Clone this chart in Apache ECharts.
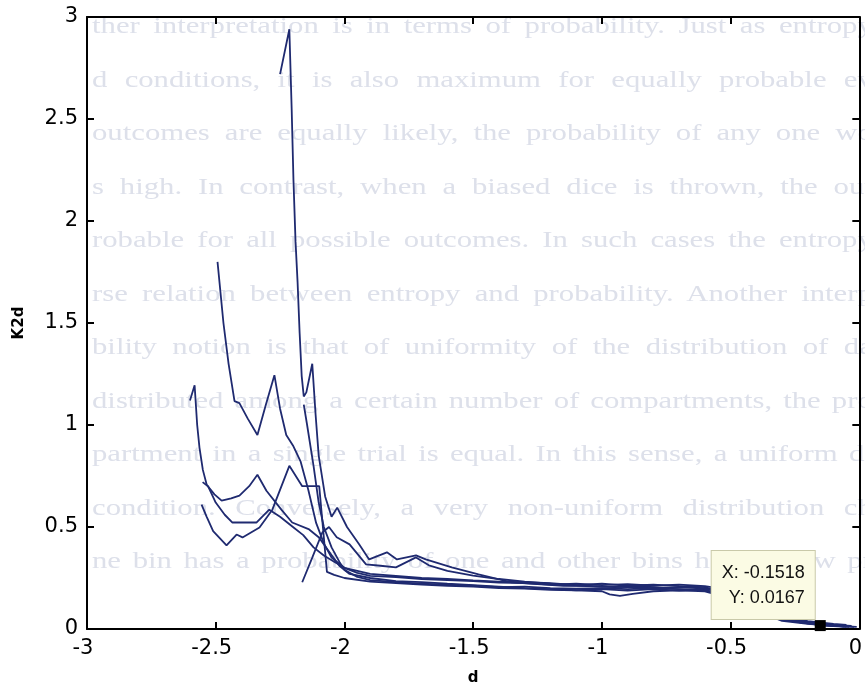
<!DOCTYPE html>
<html>
<head>
<meta charset="utf-8">
<script src="https://cdn.jsdelivr.net/npm/echarts@6/dist/echarts.min.js"></script>
<style>
  html, body { margin: 0; padding: 0; width: 865px; height: 691px; overflow: hidden; background: #ffffff; }
  #page { position: absolute; left: 0; top: 0; width: 865px; height: 691px; overflow: hidden; filter: blur(0.6px); }
  #page div { position: absolute; left: 92px; width: 610px; height: 30px; overflow: hidden;
              transform: scaleX(1.28); transform-origin: 0 0;
              font: 24px/30px "Liberation Serif", "DejaVu Serif", serif; color: #dde0ea;
              text-align: justify; text-align-last: justify; }
  #chart { position: absolute; left: 0; top: 0; width: 865px; height: 691px; }
</style>
</head>
<body>
<div id="page"></div>
<div id="chart"></div>
<script>
// Faint print showing through the paper behind the plot
const pageLines = [
  "ther interpretation is in terms of probability. Just as entropy",
  "d conditions, it is also maximum for equally probable ev",
  "outcomes are equally likely, the probability of any one wo",
  "s high.  In contrast, when a biased dice is thrown, the out",
  "robable for all possible outcomes.  In such cases the entropy",
  "rse relation between entropy and probability.  Another interp",
  "bility notion is that of uniformity of the distribution of da",
  "distributed among a certain number of compartments, the pro",
  "partment in a single trial is equal.  In this sense, a uniform di",
  "condition. Conversely, a very non-uniform distribution ch",
  "ne bin has a probability of one and other bins have a low pr"
];

// Axis ranges
const xRange = [-3, 0];
const yRange = [0, 3];
const tickStep = 0.5;
const xName = "d";
const yName = "K2d";

// K2d(d) traces
const trace1 = [[-2.25,2.72],[-2.214,2.94],[-2.205,2.55],[-2.198,2.2],[-2.19,1.9],[-2.182,1.7],[-2.174,1.45],[-2.166,1.24],[-2.158,1.14],[-2.148,1.16],[-2.125,1.30],[-2.112,1.05],[-2.1,0.85],[-2.075,0.65],[-2.05,0.55],[-2.028,0.595],[-1.99,0.5],[-1.943,0.415],[-1.904,0.341],[-1.835,0.376],[-1.796,0.341],[-1.722,0.361],[-1.684,0.341],[-1.583,0.302],[-1.479,0.268],[-1.351,0.229],[-1.25,0.22],[-1.15,0.212],[-1.05,0.21],[-0.95,0.205],[-0.85,0.21],[-0.75,0.2],[-0.65,0.205],[-0.58,0.195],[-0.5,0.16],[-0.4,0.1],[-0.3,0.05],[-0.2,0.03],[-0.1518,0.0167],[-0.1,0.014],[-0.05,0.01]];
const trace2 = [[-2.493,1.8],[-2.47,1.5],[-2.45,1.3],[-2.427,1.117],[-2.408,1.107],[-2.375,1.03],[-2.338,0.951],[-2.305,1.1],[-2.272,1.244],[-2.25,1.08],[-2.226,0.951],[-2.2,0.9],[-2.17,0.82],[-2.14,0.68],[-2.11,0.52],[-2.08,0.42],[-2.05,0.35],[-2.0,0.3],[-1.95,0.275],[-1.9,0.26],[-1.8,0.255],[-1.7,0.245],[-1.6,0.24],[-1.5,0.235],[-1.4,0.228],[-1.3,0.225],[-1.2,0.218],[-1.1,0.222],[-1.0,0.215],[-0.9,0.22],[-0.8,0.212],[-0.7,0.218],[-0.6,0.21],[-0.55,0.2],[-0.5,0.17],[-0.4,0.11],[-0.3,0.055],[-0.2,0.035],[-0.1,0.02],[-0.03,0.015]];
const trace3 = [[-2.6,1.12],[-2.582,1.195],[-2.572,1.0],[-2.563,0.888],[-2.55,0.78],[-2.535,0.707],[-2.505,0.66],[-2.477,0.629],[-2.44,0.64],[-2.408,0.654],[-2.37,0.7],[-2.338,0.756],[-2.303,0.678],[-2.245,0.585],[-2.203,0.522],[-2.137,0.488],[-2.1,0.45],[-2.06,0.38],[-2.02,0.31],[-1.98,0.27],[-1.9,0.25],[-1.8,0.235],[-1.7,0.23],[-1.6,0.222],[-1.5,0.215],[-1.4,0.208],[-1.3,0.2],[-1.2,0.195],[-1.1,0.19],[-1.0,0.185],[-0.97,0.17],[-0.93,0.162],[-0.88,0.172],[-0.8,0.185],[-0.7,0.19],[-0.6,0.185],[-0.5,0.15],[-0.4,0.09],[-0.3,0.045],[-0.2,0.028],[-0.1,0.018],[-0.04,0.01]];
const trace4 = [[-2.555,0.61],[-2.535,0.55],[-2.51,0.48],[-2.458,0.41],[-2.419,0.463],[-2.396,0.449],[-2.33,0.498],[-2.28,0.585],[-2.214,0.80],[-2.164,0.70],[-2.098,0.70],[-2.068,0.28],[-2.04,0.265],[-2.0,0.25],[-1.9,0.232],[-1.8,0.225],[-1.7,0.218],[-1.6,0.212],[-1.5,0.208],[-1.4,0.2],[-1.3,0.198],[-1.2,0.192],[-1.1,0.19],[-1.0,0.195],[-0.9,0.188],[-0.8,0.195],[-0.7,0.188],[-0.6,0.192],[-0.5,0.155],[-0.4,0.095],[-0.3,0.045],[-0.2,0.028],[-0.1,0.015],[-0.01,0.01]];
const trace5 = [[-2.551,0.72],[-2.53,0.7],[-2.5,0.62],[-2.465,0.56],[-2.435,0.522],[-2.39,0.522],[-2.342,0.522],[-2.292,0.585],[-2.25,0.55],[-2.2,0.5],[-2.16,0.46],[-2.12,0.4],[-2.08,0.36],[-2.04,0.33],[-2.0,0.3],[-1.95,0.285],[-1.9,0.27],[-1.8,0.26],[-1.7,0.25],[-1.6,0.245],[-1.5,0.238],[-1.4,0.232],[-1.3,0.23],[-1.2,0.225],[-1.1,0.215],[-1.0,0.222],[-0.9,0.212],[-0.8,0.218],[-0.7,0.21],[-0.6,0.205],[-0.5,0.17],[-0.4,0.11],[-0.3,0.06],[-0.2,0.038],[-0.1,0.025],[-0.05,0.02]];
const trace6 = [[-2.164,0.229],[-2.125,0.35],[-2.086,0.473],[-2.06,0.5],[-2.03,0.45],[-1.98,0.415],[-1.916,0.317],[-1.86,0.31],[-1.8,0.302],[-1.722,0.351],[-1.672,0.312],[-1.6,0.285],[-1.5,0.262],[-1.4,0.245],[-1.3,0.232],[-1.2,0.222],[-1.1,0.215],[-1.0,0.208],[-0.9,0.205],[-0.8,0.2],[-0.7,0.205],[-0.6,0.198],[-0.5,0.165],[-0.4,0.105],[-0.3,0.05],[-0.2,0.03],[-0.12,0.02],[-0.06,0.012]];
const trace7 = [[-2.158,1.1],[-2.145,1.0],[-2.12,0.8],[-2.1,0.62],[-2.08,0.5],[-2.05,0.4],[-2.02,0.33],[-2.0,0.29],[-1.95,0.255],[-1.9,0.24],[-1.8,0.23],[-1.7,0.222],[-1.6,0.218],[-1.5,0.212],[-1.4,0.205],[-1.3,0.208],[-1.2,0.2],[-1.1,0.198],[-1.0,0.2],[-0.9,0.195],[-0.8,0.2],[-0.7,0.195],[-0.6,0.19],[-0.5,0.15],[-0.4,0.09],[-0.3,0.04],[-0.2,0.025],[-0.1,0.015],[-0.02,0.01]];
const traces = [trace1, trace2, trace3, trace4, trace5, trace6, trace7];

// Data cursor
const tipPoint = [-0.1518, 0.0167];

// Page text layer
const page = document.getElementById("page");
pageLines.forEach((t, i) => {
  const d = document.createElement("div");
  d.textContent = t;
  d.style.top = (10 + i * 53.5) + "px";
  page.appendChild(d);
});

const tickFont = { fontFamily: "DejaVu Sans", fontSize: 21, color: "#000" };
const axisLine = { show: true, onZero: false, lineStyle: { color: "#000", width: 2 } };
const tickIn = { show: true, inside: true, length: 7, lineStyle: { color: "#000", width: 2 } };

const chart = echarts.init(document.getElementById("chart"), null, { renderer: "canvas" });
chart.setOption({
  animation: false,
  grid: { left: 87, right: 3, top: 17, bottom: 59 },
  xAxis: [
    { type: "value", position: "bottom", min: xRange[0], max: xRange[1], interval: tickStep,
      name: xName, nameLocation: "middle", nameGap: 42,
      nameTextStyle: { fontFamily: "DejaVu Sans", fontSize: 15, fontWeight: "bold", color: "#000" },
      axisLine: axisLine, axisTick: tickIn, splitLine: { show: false },
      axisLabel: Object.assign({ margin: 9, padding: [0, 8, 0, 0] }, tickFont) },
    { type: "value", position: "top", min: xRange[0], max: xRange[1], interval: tickStep,
      axisLine: axisLine, axisTick: tickIn, splitLine: { show: false }, axisLabel: { show: false } }
  ],
  yAxis: [
    { type: "value", position: "left", min: yRange[0], max: yRange[1], interval: tickStep,
      name: yName, nameLocation: "middle", nameGap: 60, nameRotate: 90,
      nameTextStyle: { fontFamily: "DejaVu Sans", fontSize: 15, fontWeight: "bold", color: "#000" },
      axisLine: axisLine, axisTick: tickIn, splitLine: { show: false },
      axisLabel: Object.assign({ margin: 9 }, tickFont) },
    { type: "value", position: "right", min: yRange[0], max: yRange[1], interval: tickStep,
      axisLine: axisLine, axisTick: tickIn, splitLine: { show: false }, axisLabel: { show: false } }
  ],
  series: traces.map(tr => ({
    type: "line", data: tr, showSymbol: false, symbol: "none", silent: true, z: 2,
    lineStyle: { color: "#1f2a70", width: 1.8 }
  })).concat([{
    type: "scatter", data: [tipPoint], symbol: "rect", symbolSize: 11, z: 10,
    itemStyle: { color: "#000", opacity: 1 },
    label: {
      show: true, position: [0, -1], align: "right", verticalAlign: "bottom",
      formatter: p => "X: " + p.value[0].toFixed(4) + "\nY: " + p.value[1].toFixed(4),
      fontFamily: "Liberation Sans", fontSize: 18, lineHeight: 25, color: "#111",
      backgroundColor: "#fbfbe4", borderColor: "#c9c9a9", borderWidth: 1, padding: [9, 10]
    }
  }])
});
</script>
</body>
</html>
